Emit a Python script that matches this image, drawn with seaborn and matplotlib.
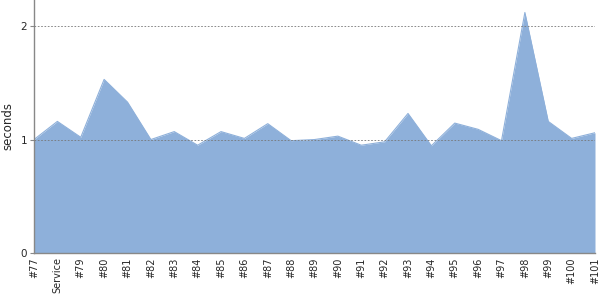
import numpy as np
import pandas as pd
import matplotlib
matplotlib.use("Agg")
import matplotlib.pyplot as plt
import seaborn as sns

builds = ['#77', 'Service', '#79', '#80', '#81', '#82', '#83', '#84', '#85', '#86',
          '#87', '#88', '#89', '#90', '#91', '#92', '#93', '#94', '#95', '#96',
          '#97', '#98', '#99', '#100', '#101']
seconds = [1.00, 1.16, 1.02, 1.53, 1.33, 1.00, 1.07, 0.95, 1.07, 1.01,
           1.14, 0.99, 1.00, 1.03, 0.95, 0.98, 1.23, 0.945, 1.145, 1.09,
           0.99, 2.12, 1.16, 1.01, 1.06]

df = pd.DataFrame({'build': builds, 'seconds': seconds})
df['pos'] = range(len(df))

sns.set_style("white")
plt.rcParams['font.family'] = ['DejaVu Sans']

fig = plt.figure(figsize=(6, 3), dpi=100)
ax = fig.add_axes([34/600, 47/300, 561/600, 253/300])

sns.lineplot(data=df, x='pos', y='seconds', ax=ax, color='#8eb0da', linewidth=0.8)
ax.fill_between(df['pos'], 0, df['seconds'], color='#8eb0da', linewidth=0)

ax.set_xlim(0, len(df) - 1)
ax.set_ylim(0, 2.23)
ax.set_yticks([0, 1, 2])
ax.set_xticks(df['pos'])
ax.set_xticklabels(df['build'], rotation=90, fontsize=7)
ax.tick_params(axis='y', labelsize=7.5, length=3, color='#888888', left=True, pad=2)
ax.tick_params(axis='x', length=0, pad=3)
ax.set_xlabel('')
ax.set_ylabel('seconds', fontsize=8.5)

for v in [1, 2]:
    ax.axhline(v, color='#777777', linestyle=(0, (2, 2)), linewidth=0.6, zorder=3)

for s in ['top', 'right']:
    ax.spines[s].set_visible(False)
for s in ['left', 'bottom']:
    ax.spines[s].set_color('#888888')
    ax.spines[s].set_linewidth(1)

fig.savefig('out.png', dpi=100)
